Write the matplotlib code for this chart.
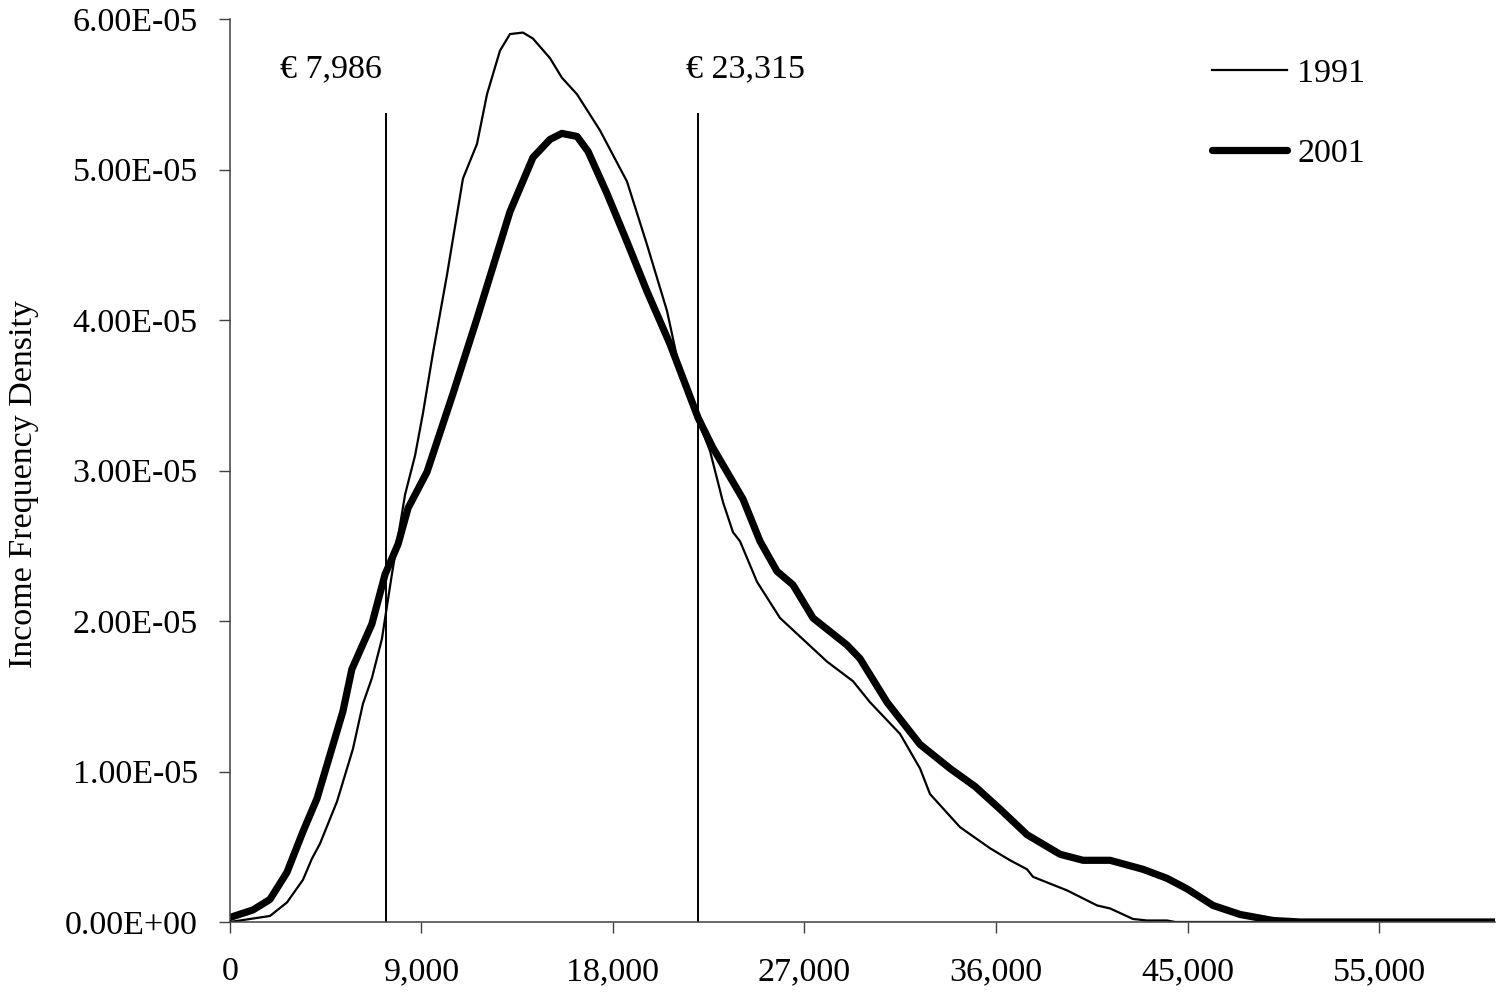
import numpy as np
import matplotlib
matplotlib.use("Agg")
import matplotlib.pyplot as plt

plt.rcParams['font.family'] = ['Liberation Serif', 'DejaVu Serif']

# income position along the axis (euro) and density (1e-5 units)
x_1991 = [0, 940, 1880, 2680, 3430, 3850, 4230, 5030, 5780, 6250, 6670, 7140, 7610,
          8230, 8700, 9070, 9540, 10200, 10950, 11610, 12080, 12690, 13160, 13770,
          14240, 15040, 15600, 16310, 17390, 18660, 19600, 20540, 21150, 21950,
          22560, 23170, 23640, 23970, 24770, 25850, 28060, 29280, 30080, 31490,
          32430, 32900, 34310, 35720, 36660, 37460, 37740, 39340, 40750, 41360,
          42440, 43100, 44040, 44420, 59450]
y_1991 = [0.0, 0.02, 0.04, 0.13, 0.28, 0.42, 0.52, 0.80, 1.15, 1.45, 1.62, 1.88, 2.31,
          2.84, 3.10, 3.38, 3.78, 4.30, 4.94, 5.17, 5.50, 5.79, 5.90, 5.91,
          5.87, 5.74, 5.61, 5.50, 5.26, 4.92, 4.50, 4.06, 3.66, 3.35,
          3.13, 2.79, 2.59, 2.53, 2.26, 2.02, 1.73, 1.60, 1.46, 1.25,
          1.02, 0.85, 0.63, 0.49, 0.41, 0.35, 0.30, 0.21, 0.11, 0.09,
          0.02, 0.01, 0.01, 0.0, 0.0]

x_2001 = [0, 1080, 1880, 2680, 3430, 4090, 4700, 5310, 5730, 6670, 7290, 7900, 8370,
          9260, 10480, 11610, 13160, 14240, 15040, 15600, 16310, 16830, 17720,
          18660, 19600, 20680, 22000, 22700, 24110, 24910, 25710, 26460, 27400,
          29000, 29610, 30880, 32430, 33840, 35020, 36190, 37460, 39010, 40090,
          41360, 42910, 44040, 44980, 46200, 47470, 49020, 50290, 59450]
y_2001 = [0.03, 0.08, 0.15, 0.33, 0.60, 0.82, 1.11, 1.40, 1.68, 1.98, 2.31, 2.51, 2.75,
          2.99, 3.51, 4.01, 4.72, 5.08, 5.20, 5.24, 5.22, 5.12, 4.84,
          4.52, 4.19, 3.84, 3.35, 3.15, 2.81, 2.53, 2.33, 2.24, 2.02,
          1.84, 1.75, 1.46, 1.18, 1.02, 0.90, 0.75, 0.58, 0.45, 0.41,
          0.41, 0.35, 0.29, 0.22, 0.11, 0.05, 0.01, 0.0, 0.0]

xtick_pos = [0, 9000, 18000, 27000, 36000, 45000, 54000]
xtick_labels = ['0', '9,000', '18,000', '27,000', '36,000', '45,000', '55,000']
ytick_pos = [0, 1e-5, 2e-5, 3e-5, 4e-5, 5e-5, 6e-5]
ytick_labels = ['0.00E+00', '1.00E-05', '2.00E-05', '3.00E-05', '4.00E-05', '5.00E-05', '6.00E-05']

cut_pos = [7330, 21990]
cut_labels = ['€ 7,986', '€ 23,315']

fs = 24.5

fig = plt.figure(figsize=(14.98, 9.96), dpi=100)
ax = fig.add_axes([0.1535, 0.0743, 0.8445, 0.9066])

ax.plot(x_1991, np.array(y_1991) * 1e-5, color='black', lw=1.6, label='1991')
ax.plot(x_2001, np.array(y_2001) * 1e-5, color='black', lw=5.2, label='2001',
        solid_capstyle='round', solid_joinstyle='round')

ax.vlines(cut_pos, 0, 5.375e-5, color='black', lw=1.4)
ax.text(cut_pos[0] - 2600, 5.67e-5, cut_labels[0], ha='center', va='center', fontsize=fs)
ax.text(cut_pos[1] + 2250, 5.67e-5, cut_labels[1], ha='center', va='center', fontsize=fs)

ax.set_xlim(0, 59450)
ax.set_ylim(0, 6e-5)
ax.set_xticks(xtick_pos)
ax.set_xticklabels(xtick_labels, fontsize=fs)
ax.set_yticks(ytick_pos)
ax.set_yticklabels(ytick_labels, fontsize=fs)
ax.tick_params(axis='both', direction='out', length=8, width=1, color='#404040')
ax.tick_params(axis='y', pad=15)
ax.tick_params(axis='x', pad=17)

for s in ['top', 'right']:
    ax.spines[s].set_visible(False)
for s in ['left', 'bottom']:
    ax.spines[s].set_color('#404040')
    ax.spines[s].set_linewidth(1.1)

ax.set_ylabel('Income Frequency Density', fontsize=fs)
ax.yaxis.set_label_coords(-0.151, 0.485, transform=ax.transAxes)

leg = fig.legend(loc='upper left', bbox_to_anchor=(1212 / 1498, 1 - 58 / 996),
                 frameon=False, fontsize=fs, handlelength=2.2, handletextpad=0.3,
                 labelspacing=1.45, borderpad=0, borderaxespad=0)

fig.savefig('out.png', dpi=100, facecolor='white')
